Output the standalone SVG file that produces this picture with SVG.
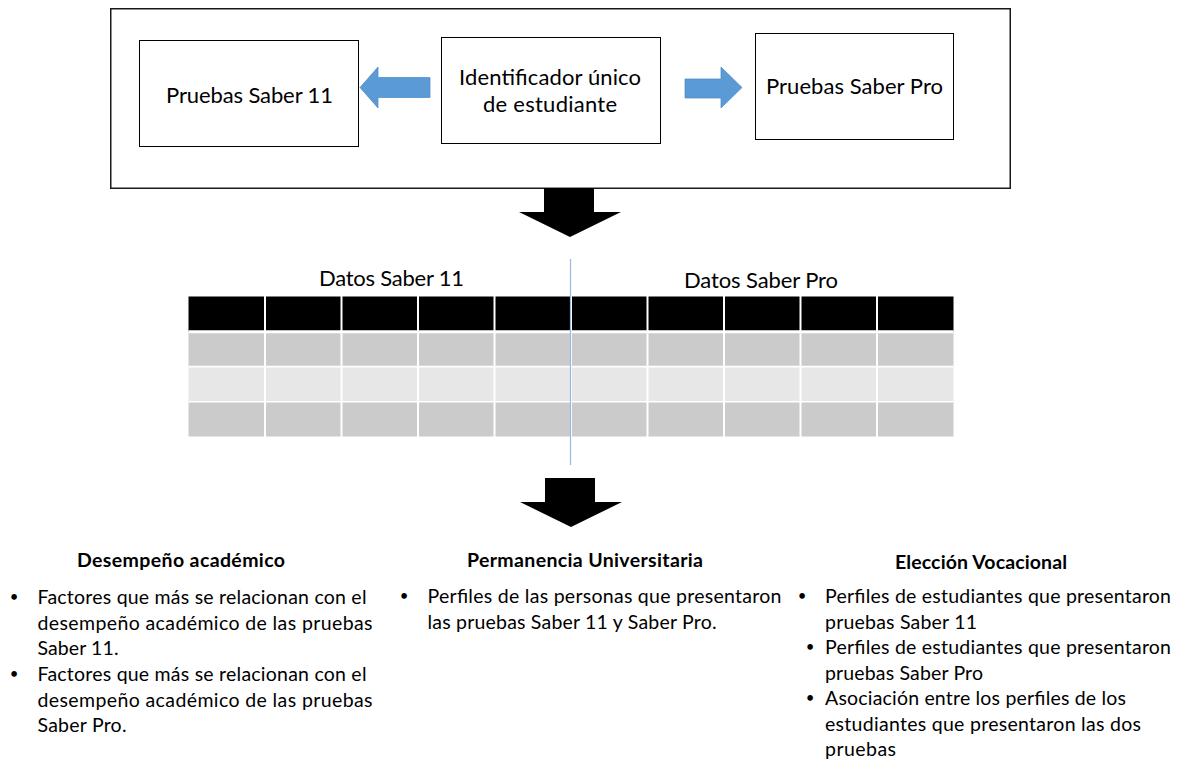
<svg xmlns="http://www.w3.org/2000/svg" width="1183" height="761" viewBox="0 0 1183 761">
<style>
  .t { font-family: Lato, "Liberation Sans", sans-serif; fill: #000; }
  .box { font-size: 22px; }
  .body { font-size: 19.5px; }
  .bul { font-size: 15px; }
  .head { font-size: 19.5px; font-weight: bold; }
  .node { fill: #fff; stroke: #000; stroke-width: 1; }
  .blue { fill: #5B9BD5; stroke: #4F8CC6; stroke-width: 0.75; }
  .black { fill: #000; }
  .hdr { fill: #000; }
  .r1 { fill: #CBCBCB; }
  .r2 { fill: #E7E7E7; }
  .grid { stroke: #fff; fill: none; }
</style>
<rect width="1183" height="761" fill="#fff"/>

<g id="container">
  <rect x="110.75" y="8.75" width="899.5" height="179.5" fill="#fff" stroke="#1a1a1a" stroke-width="1.5"/>
</g>

<g id="node-saber11">
  <rect class="node" x="139.5" y="40.5" width="219" height="106"/>
  <text class="t box" x="166" y="103" textLength="167">Pruebas Saber 11</text>
</g>

<g id="node-identificador">
  <rect class="node" x="441.5" y="37.5" width="219" height="106"/>
  <text class="t box" x="459" y="85" textLength="182">Identificador único</text>
  <text class="t box" x="483" y="112" textLength="134">de estudiante</text>
</g>

<g id="node-saberpro">
  <rect class="node" x="755.5" y="33.5" width="198" height="106"/>
  <text class="t box" x="766" y="94" textLength="177">Pruebas Saber Pro</text>
</g>

<g id="node-table">
  <text class="t box" x="319" y="286" textLength="145">Datos Saber 11</text>
  <text class="t box" x="684" y="287.5" textLength="154">Datos Saber Pro</text>
  <rect class="hdr" x="188.5" y="296.5" width="765" height="35"/>
  <rect class="r1" x="188.5" y="331.5" width="765" height="35"/>
  <rect class="r2" x="188.5" y="366.5" width="765" height="35"/>
  <rect class="r1" x="188.5" y="401.5" width="765" height="35"/>
  <g class="grid">
    <line x1="188.5" y1="331.8" x2="953.5" y2="331.8" stroke-width="3"/>
    <line x1="188.5" y1="366.6" x2="953.5" y2="366.6" stroke-width="1.6"/>
    <line x1="188.5" y1="401.8" x2="953.5" y2="401.8" stroke-width="1.6"/>
    <line x1="265" y1="296" x2="265" y2="437" stroke-width="2"/>
    <line x1="341.5" y1="296" x2="341.5" y2="437" stroke-width="2"/>
    <line x1="418" y1="296" x2="418" y2="437" stroke-width="2"/>
    <line x1="494.5" y1="296" x2="494.5" y2="437" stroke-width="2"/>
    <line x1="571" y1="296" x2="571" y2="437" stroke-width="2"/>
    <line x1="647.5" y1="296" x2="647.5" y2="437" stroke-width="2"/>
    <line x1="724" y1="296" x2="724" y2="437" stroke-width="2"/>
    <line x1="800.5" y1="296" x2="800.5" y2="437" stroke-width="2"/>
    <line x1="877" y1="296" x2="877" y2="437" stroke-width="2"/>
  </g>
  <line x1="570.5" y1="259" x2="570.5" y2="465" stroke="#9DB7DC" stroke-width="1.2"/>
</g>

<g id="node-desempeno">
  <text class="t head" x="77" y="567" textLength="208">Desempeño académico</text>
  <text class="t bul" x="14" y="602" text-anchor="middle">•</text>
  <text class="t body" x="37.5" y="604" textLength="329">Factores que más se relacionan con el</text>
  <text class="t body" x="37.5" y="630" textLength="335">desempeño académico de las pruebas</text>
  <text class="t body" x="37.5" y="655" textLength="81">Saber 11.</text>
  <text class="t bul" x="14" y="679" text-anchor="middle">•</text>
  <text class="t body" x="37.5" y="681" textLength="329">Factores que más se relacionan con el</text>
  <text class="t body" x="37.5" y="707" textLength="335">desempeño académico de las pruebas</text>
  <text class="t body" x="37.5" y="732" textLength="89">Saber Pro.</text>
</g>

<g id="node-permanencia">
  <text class="t head" x="467" y="567" textLength="236">Permanencia Universitaria</text>
  <text class="t bul" x="404" y="601" text-anchor="middle">•</text>
  <text class="t body" x="427.5" y="603" textLength="354">Perfiles de las personas que presentaron</text>
  <text class="t body" x="427.5" y="629" textLength="289">las pruebas Saber 11 y Saber Pro.</text>
</g>

<g id="node-eleccion">
  <text class="t head" x="895" y="569" textLength="172">Elección Vocacional</text>
  <text class="t bul" x="802" y="601" text-anchor="middle">•</text>
  <text class="t body" x="825" y="603" textLength="346">Perfiles de estudiantes que presentaron</text>
  <text class="t body" x="825" y="629" textLength="152">pruebas Saber 11</text>
  <text class="t bul" x="810" y="652" text-anchor="middle">•</text>
  <text class="t body" x="825" y="654" textLength="346">Perfiles de estudiantes que presentaron</text>
  <text class="t body" x="825" y="680" textLength="158">pruebas Saber Pro</text>
  <text class="t bul" x="810" y="703" text-anchor="middle">•</text>
  <text class="t body" x="825" y="705" textLength="301">Asociación entre los perfiles de los</text>
  <text class="t body" x="825" y="731" textLength="316">estudiantes que presentaron las dos</text>
  <text class="t body" x="825" y="756" textLength="71">pruebas</text>
</g>

<g id="connectors">
  <polygon class="blue" points="360,87.5 378,67 378,77.5 430,77.5 430,97.5 378,97.5 378,108"/>
  <polygon class="blue" points="685,79 721,79 721,67 742,87.5 721,108 721,98 685,98"/>
  <polygon class="black" points="544,188 594,188 594,212 621,212 570,237 519,212 544,212"/>
  <polygon class="black" points="545,478 595,478 595,502 622,502 571,527 520,502 545,502"/>
</g>
</svg>
